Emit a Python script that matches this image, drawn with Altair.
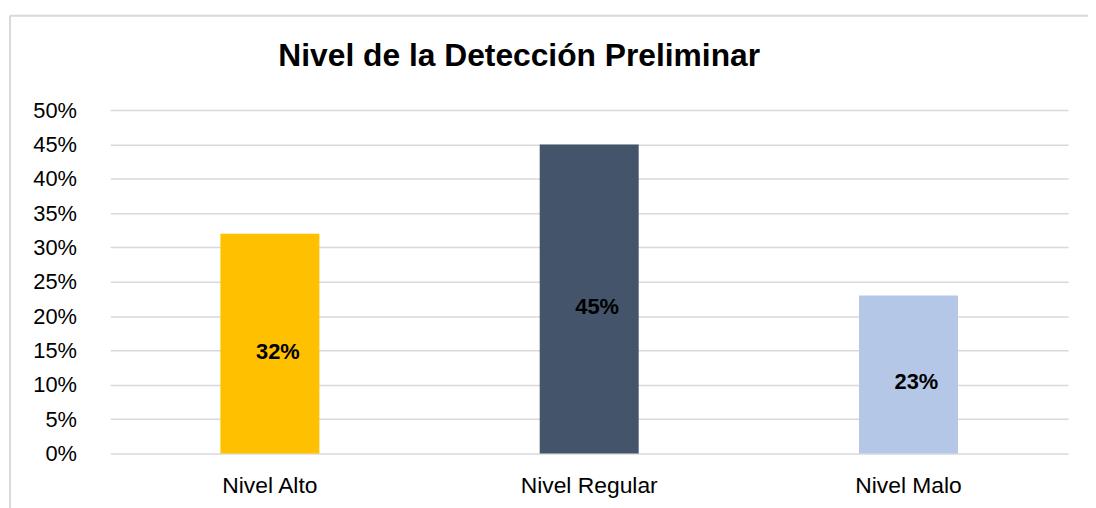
import altair as alt
import pandas as pd

title_text = "Nivel de la Detección Preliminar"
categories = ["Nivel Alto", "Nivel Regular", "Nivel Malo"]
values = [0.32, 0.45, 0.23]
colors = ["#FFC000", "#44546A", "#B4C7E7"]
tick_values = [0.0, 0.05, 0.1, 0.15, 0.2, 0.25, 0.3, 0.35, 0.4, 0.45, 0.5]

df = pd.DataFrame({"cat": categories, "val": values, "color": colors})

x_axis = alt.Axis(labelAngle=0, labelFontSize=23, labelPadding=21,
                  labelFont="Liberation Sans", labelColor="#000000",
                  domain=False, ticks=False, grid=False)
x_scale = alt.Scale(paddingInner=0.69, paddingOuter=0.345)
y_axis = alt.Axis(format=".0%", values=tick_values,
                  labelFontSize=22, labelFont="Liberation Sans",
                  labelColor="#000000", labelPadding=34,
                  labelOverlap=False,
                  domain=False, ticks=False, grid=True,
                  gridColor="#d9d9d9", gridWidth=1.5)
y_scale = alt.Scale(domain=[0, 0.5], nice=False)

bars = alt.Chart(df).mark_bar().encode(
    x=alt.X("cat:N", sort=categories, title=None, scale=x_scale, axis=x_axis),
    y=alt.Y("val:Q", title=None, scale=y_scale, axis=y_axis),
    color=alt.Color("color:N", scale=None),
)

labels = alt.Chart(df).transform_calculate(
    mid="datum.val / 2"
).mark_text(fontSize=22, fontWeight="bold", font="Liberation Sans",
            color="#000000", dx=8, dy=8).encode(
    x=alt.X("cat:N", sort=categories, title=None, scale=x_scale, axis=x_axis),
    y=alt.Y("mid:Q", title=None, scale=y_scale, axis=y_axis),
    text=alt.Text("val:Q", format=".0%"),
)

frame_df = pd.DataFrame({"t": [title_text]})
frame_left = alt.Chart(frame_df).mark_rule(color="#d9d9d9", strokeWidth=2).encode(
    x=alt.value(-101), y=alt.value(-95), y2=alt.value(420))
frame_top = alt.Chart(frame_df).mark_rule(color="#d9d9d9", strokeWidth=2).encode(
    x=alt.value(-101), x2=alt.value(1000), y=alt.value(-95))
title = alt.Chart(frame_df).mark_text(
    fontSize=32, fontWeight="bold", font="Liberation Sans", color="#000000",
    align="center", baseline="middle").encode(
    x=alt.value(412), y=alt.value(-54), text="t:N")

chart = alt.layer(bars, labels, frame_left, frame_top, title).properties(
    width=965, height=346,
    background="#ffffff",
    autosize=alt.AutoSizeParams(type="none"),
    padding={"left": 103, "top": 101, "right": 20, "bottom": 55},
).configure_view(stroke=None)

chart.save("out.html", embed_options={"renderer": "svg", "actions": False})
